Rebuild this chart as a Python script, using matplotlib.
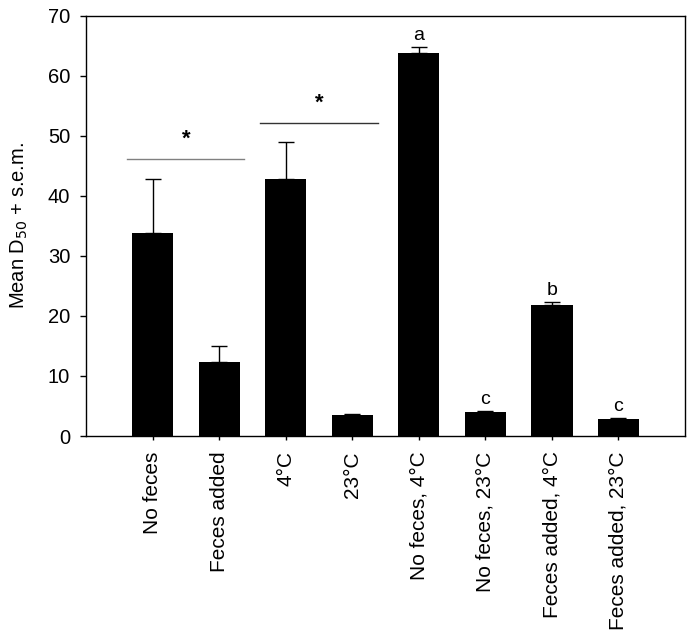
import numpy as np
import matplotlib.pyplot as plt

plt.rcParams['font.family'] = ['Liberation Sans', 'DejaVu Sans']

labels = ['No feces', 'Feces added', '4°C', '23°C',
          'No feces, 4°C', 'No feces, 23°C', 'Feces added, 4°C', 'Feces added, 23°C']
means = [33.9, 12.3, 42.8, 3.45, 63.8, 4.05, 21.8, 2.8]
sems = [8.9, 2.75, 6.25, 0.15, 1.0, 0.05, 0.6, 0.15]
letters = ['', '', '', '', 'a', 'c', 'b', 'c']

# significance brackets: (x start, x end, height, colour)
sig_lines = [(-0.38, 1.38, 46.2, '#808080'), (1.62, 3.38, 52.2, '#333333')]

fig = plt.figure(figsize=(6.94, 6.31), dpi=100)
ax = fig.add_axes([0.124, 0.309, 0.863, 0.666])

x = np.arange(len(labels))
ax.bar(x, means, width=0.62, color='black', zorder=2)
ax.errorbar(x, means, yerr=[np.zeros(len(sems)), sems], fmt='none',
            ecolor='black', elinewidth=1, capsize=6, capthick=1, zorder=1)

for xi, m, s, t in zip(x, means, sems, letters):
    if t:
        ax.text(xi, m + s + 0.5, t, ha='center', va='bottom', fontsize=14)

for x0, x1, h, c in sig_lines:
    ax.plot([x0, x1], [h, h], color=c, lw=1)
    ax.text((x0 + x1) / 2, h + 1.5, '*', ha='center', va='bottom',
            fontsize=16, fontweight='bold')

ax.set_xlim(-1, 8)
ax.set_ylim(0, 70)
ax.set_yticks(range(0, 71, 10))
ax.set_xticks(x)
ax.set_xticklabels(labels, rotation=90, fontsize=15)
ax.tick_params(axis='y', labelsize=14.5, length=4.5, width=1, direction='out', pad=7)
ax.tick_params(axis='x', length=3, width=1, direction='out', pad=8)
ax.set_ylabel('Mean D$_{50}$ + s.e.m.', fontsize=14.5, labelpad=13)
for sp in ax.spines.values():
    sp.set_linewidth(1)

fig.savefig('out.png', dpi=100)
